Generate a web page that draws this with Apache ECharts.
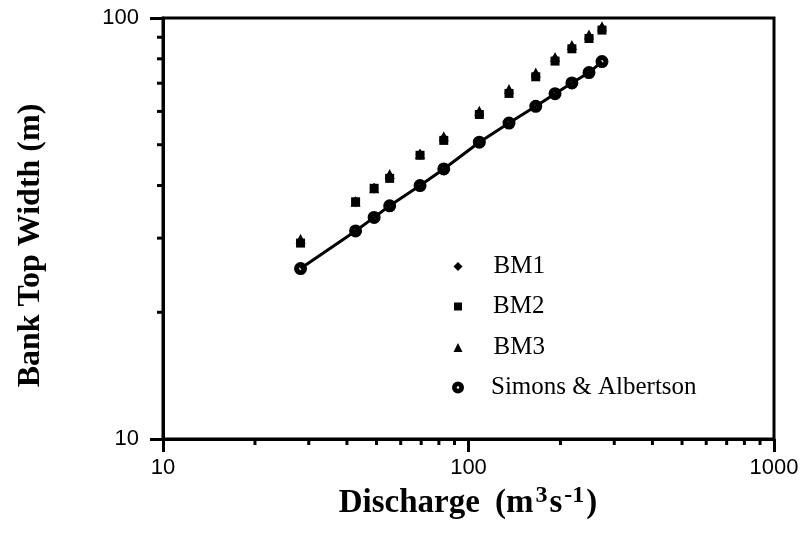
<!DOCTYPE html>
<html><head><meta charset="utf-8">
<script src="https://cdn.jsdelivr.net/npm/echarts@6/dist/echarts.min.js"></script>
<style>html,body{margin:0;padding:0;background:#fff}#c{width:808px;height:538px}</style>
</head><body><div id="c"></div>
<script>
// Discharge (m3/s)
const discharge = [28.2, 42.7, 49.1, 55.2, 69.4, 83.0, 108.5, 135.7, 166, 192, 218, 248, 273.5];
// Bank top width (m)
const bm1 = [29.5, 36.6, 39.4, 42.1, 47.4, 51.8, 59.5, 66.9, 73.3, 79.9, 85.3, 90.3, 94.5];
const bm2 = [29.2, 36.6, 39.4, 41.6, 47.2, 51.2, 59.0, 66.2, 72.5, 79.0, 84.5, 89.4, 93.6];
const bm3 = [29.9, 36.6, 39.4, 42.6, 47.6, 52.4, 60.2, 67.8, 74.2, 80.8, 86.3, 91.4, 95.6];
const simonsAlbertson = [25.4, 31.2, 33.6, 35.8, 40.0, 43.8, 50.7, 56.3, 61.7, 66.1, 70.1, 74.2, 78.8];
// axis ticks
const xMinorTicks = [20, 30, 40, 50, 60, 70, 80, 90, 200, 300, 400, 500, 600, 700, 800, 900];
const yMinorTicks = [20, 30, 40, 50, 60, 70, 80, 90];
const seriesNames = ['BM1', 'BM2', 'BM3', 'Simons & Albertson'];

const ringPath = 'path://M0,-10 A10,10 0 1,1 0,10 A10,10 0 1,1 0,-10 Z M0,-2.2 A2.2,2.2 0 1,0 0,2.2 A2.2,2.2 0 1,0 0,-2.2 Z';
const pairs = ys => discharge.map((q, i) => [q, ys[i]]);
const chart = echarts.init(document.getElementById('c'), null, {renderer: 'canvas'});

function mkLegend(name, icon, size, top, pad) {
  return {
    data: [{name: name, icon: icon}], orient: 'vertical', left: 453 - size / 2, top: top,
    itemWidth: size, itemHeight: size, selectedMode: false,
    textStyle: {fontFamily: 'Liberation Serif', fontSize: 25, color: '#000', padding: [0, 0, 0, pad]}
  };
}
const serifBold = {fontFamily: 'Liberation Serif', fontWeight: 'bold', color: '#000'};

chart.setOption({
  animation: false,
  backgroundColor: '#fff',
  grid: {left: 163, right: 34, top: 18, bottom: 99, show: true, borderColor: '#000', borderWidth: 3, backgroundColor: 'transparent'},
  legend: [
    mkLegend(seriesNames[0], 'diamond', 9, 249, 26),
    mkLegend(seriesNames[1], 'rect', 8, 289, 26),
    mkLegend(seriesNames[2], 'triangle', 9, 330, 26),
    mkLegend(seriesNames[3], ringPath, 12, 370, 22)
  ],
  xAxis: {
    type: 'log', logBase: 10, min: 10, max: 1000,
    name: '{t|Discharge}{g| }{p|(m}{sup|3}{p|s}{sup|-1}{p|)}', nameLocation: 'middle', nameGap: 37,
    nameTextStyle: Object.assign({fontSize: 33, rich: {
      t: Object.assign({fontSize: 33}, serifBold),
      g: Object.assign({fontSize: 33, padding: [0, 3, 0, 3]}, serifBold),
      p: Object.assign({fontSize: 33, padding: [0, 1, 0, 1]}, serifBold),
      sup: Object.assign({fontSize: 24, verticalAlign: 'top', padding: [0, 1, 16, 1]}, serifBold)
    }}, serifBold),
    axisLine: {show: true, lineStyle: {color: '#000', width: 3}},
    axisTick: {show: true, inside: false, length: 13, lineStyle: {color: '#000', width: 3}},
    axisLabel: {color: '#000', fontFamily: 'Liberation Sans', fontSize: 22, margin: 18, formatter: v => String(v)},
    splitLine: {show: false}
  },
  yAxis: {
    type: 'log', logBase: 10, min: 10, max: 100,
    name: 'Bank Top Width (m)', nameLocation: 'middle', nameGap: 116,
    nameTextStyle: Object.assign({fontSize: 32, padding: [0, 34, 0, 0]}, serifBold),
    axisLine: {show: true, lineStyle: {color: '#000', width: 3}},
    axisTick: {show: true, inside: false, length: 13, lineStyle: {color: '#000', width: 3}},
    axisLabel: {color: '#000', fontFamily: 'Liberation Sans', fontSize: 22, margin: 24, formatter: v => String(v)},
    splitLine: {show: false}
  },
  series: [
    {name: 'SA line', type: 'line', data: pairs(simonsAlbertson), symbol: 'none', lineStyle: {color: '#000', width: 3}, z: 2},
    {name: seriesNames[3], type: 'scatter', data: pairs(simonsAlbertson), symbol: ringPath, symbolSize: 13,
      itemStyle: {color: '#000', opacity: 1}, z: 3},
    {name: seriesNames[1], type: 'scatter', data: pairs(bm2), symbol: 'rect', symbolSize: 9, itemStyle: {color: '#000', opacity: 1}, z: 3},
    {name: seriesNames[0], type: 'scatter', data: pairs(bm1), symbol: 'diamond', symbolSize: [9, 11], itemStyle: {color: '#000', opacity: 1}, z: 3},
    {name: seriesNames[2], type: 'scatter', data: pairs(bm3), symbol: 'triangle', symbolSize: [10, 10], itemStyle: {color: '#000', opacity: 1}, z: 3},
    {
      name: 'xMinor', type: 'custom', clip: false, silent: true, z: 5,
      data: xMinorTicks.map(v => [v, 10]),
      renderItem: (params, api) => {
        const p = api.coord([api.value(0), api.value(1)]);
        return {type: 'line', shape: {x1: p[0], y1: p[1], x2: p[0], y2: p[1] + 6}, style: {stroke: '#000', lineWidth: 3}};
      }
    },
    {
      name: 'yMinor', type: 'custom', clip: false, silent: true, z: 5,
      data: yMinorTicks.map(v => [10, v]),
      renderItem: (params, api) => {
        const p = api.coord([api.value(0), api.value(1)]);
        return {type: 'line', shape: {x1: p[0] - 6, y1: p[1], x2: p[0], y2: p[1]}, style: {stroke: '#000', lineWidth: 3}};
      }
    }
  ]
});
</script>
</body></html>
